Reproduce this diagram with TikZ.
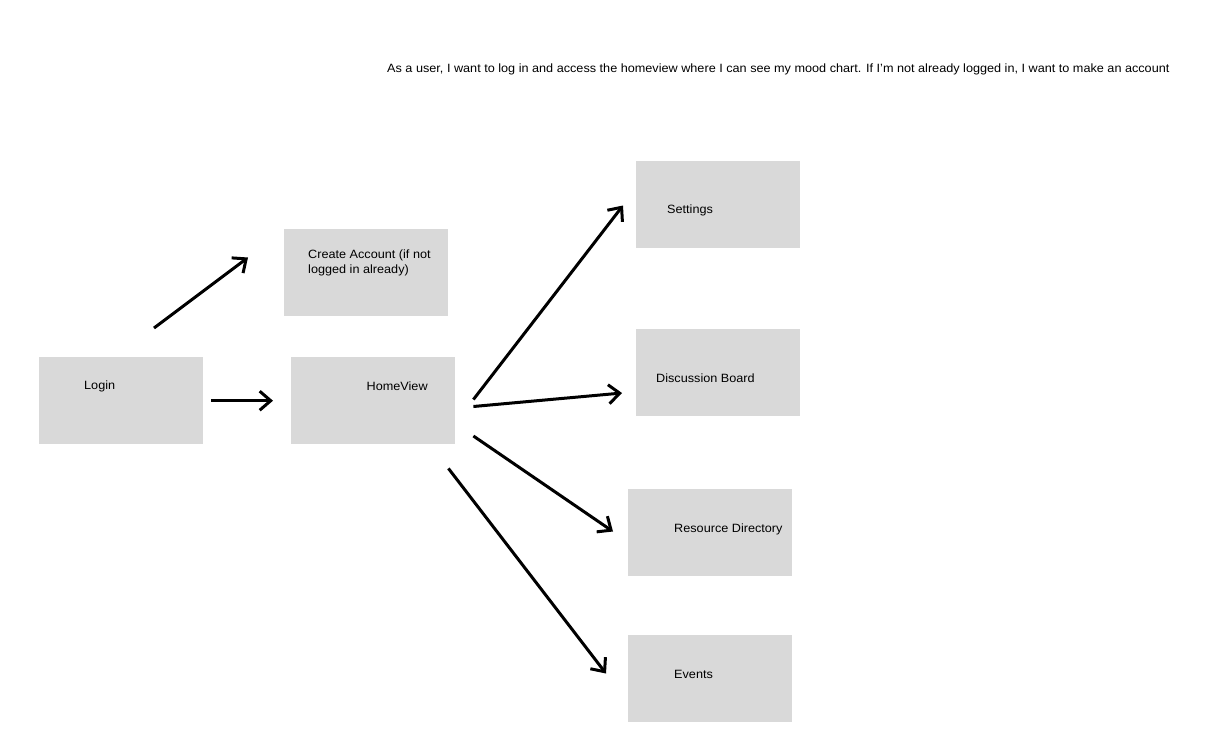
\documentclass[tikz,border=0pt]{standalone}
\usepackage{fontspec}
\setmainfont{Liberation Sans}[FakeStretch=1.055]
\usetikzlibrary{arrows.meta,calc}
\definecolor{boxgray}{HTML}{D9D9D9}
\begin{document}
\begin{tikzpicture}[x=1pt,y=-1pt,
  screen/.style={fill=boxgray,draw=none,inner sep=0pt,minimum width=164pt,minimum height=87pt,anchor=north west},
  caption/.style={anchor=base west,inner sep=0pt,font=\fontsize{12}{15.5}\selectfont,text=black},
  flow/.style={line width=3pt,-{Straight Barb[length=11pt,width=19pt,line width=3pt]}}]
  % canvas
  \fill[white] (0,0) rectangle (1224,748);
  \useasboundingbox (0,0) rectangle (1224,748);

  % user story
  \node[caption] (story) at (387,72) {As a user, I want to log in and access the homeview where I can see my mood chart. If I’m not already logged in, I want to make an account};

  % screens
  \node[screen] (login) at (39,357) {};
  \node[screen] (create) at (284,228.5) {};
  \node[screen] (home) at (291,357) {};
  \node[screen] (settings) at (636,161) {};
  \node[screen] (board) at (636,329) {};
  \node[screen] (resources) at (628,488.5) {};
  \node[screen] (events) at (628,634.5) {};

  % screen titles (a two-line node sits on its last baseline)
  \node[caption] (loginT) at (84,389) {Login};
  \node[caption,align=left] (createT) at (308,273.5) {Create Account (if not\\logged in already)};
  \node[caption] (homeT) at (366.5,390) {HomeView};
  \node[caption] (settingsT) at (667,213) {Settings};
  \node[caption] (boardT) at (656,382) {Discussion Board};
  \node[caption] (resourcesT) at (674,532) {Resource Directory};
  \node[caption] (eventsT) at (674,678) {Events};

  % arrow ends
  \coordinate (a1s) at ($(login.north west)+(115,-29)$);
  \coordinate (a1e) at ($(create.north west)+(-36,29)$);
  \coordinate (a2s) at ($(login.east)+(8,0)$);
  \coordinate (a2e) at ($(home.west)+(-18,0)$);
  \coordinate (h1) at ($(home.north east)+(18,42.5)$);
  \coordinate (h2) at ($(home.north east)+(18,49.5)$);
  \coordinate (h3) at ($(home.north east)+(18,79)$);
  \coordinate (h4) at ($(home.south east)+(-7,24)$);
  \coordinate (e1) at ($(settings.north west)+(-13,44.5)$);
  \coordinate (e2) at ($(board.north west)+(-14,64)$);
  \coordinate (e3) at ($(resources.north west)+(-15,43)$);
  \coordinate (e4) at ($(events.north west)+(-22,39)$);

  % navigation
  \draw[flow] (a1s) -- (a1e);
  \draw[flow] (a2s) -- (a2e);
  \draw[flow] (h1) -- (e1);
  \draw[flow] (h2) -- (e2);
  \draw[flow] (h3) -- (e3);
  \draw[flow] (h4) -- (e4);
\end{tikzpicture}
\end{document}
